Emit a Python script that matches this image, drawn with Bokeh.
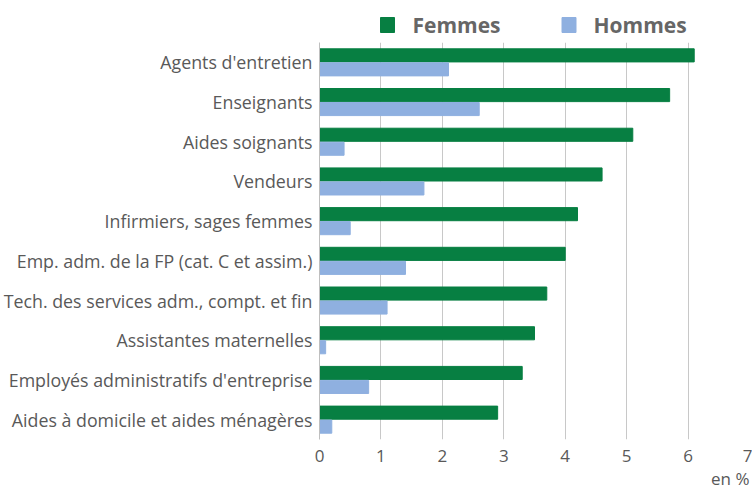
from bokeh.plotting import figure
from bokeh.layouts import column
from bokeh.models import ColumnDataSource, Title, FactorRange, Range1d
from bokeh.core.properties import value
from bokeh.transform import dodge
from bokeh.embed import file_html
from bokeh.resources import INLINE

categories = [
    "Agents d'entretien",
    "Enseignants",
    "Aides soignants",
    "Vendeurs",
    "Infirmiers, sages femmes",
    "Emp. adm. de la FP (cat. C et assim.)",
    "Tech. des services adm., compt. et fin",
    "Assistantes maternelles",
    "Employés administratifs d'entreprise",
    "Aides à domicile et aides ménagères",
]
femmes = [6.1, 5.7, 5.1, 4.6, 4.2, 4.0, 3.7, 3.5, 3.3, 2.9]
hommes = [2.1, 2.6, 0.4, 1.7, 0.5, 1.4, 1.1, 0.1, 0.8, 0.2]
x_ticks = [0, 1, 2, 3, 4, 5, 6, 7]
series = ["Femmes", "Hommes"]

GREEN = "#077f42"
BLUE = "#8fb0e0"
FONT = "Open Sans"
TXT = "#595959"

# ---- legend strip (frame aligned with the chart; pixel coordinates) ----
lg = figure(width=752, height=42, x_range=Range1d(319, 749), y_range=Range1d(42, 0),
            output_backend="svg", toolbar_location=None,
            x_axis_location=None, y_axis_location=None,
            min_border_left=319, min_border_right=3, min_border_top=0, min_border_bottom=0)
lg.outline_line_color = None
lg.xgrid.visible = False
lg.ygrid.visible = False
lg.rect(x=[387, 568.5], y=[24.5, 24.5], width=14, height=15,
        color=[GREEN, BLUE])
lg.text(x=[412, 593], y=[24.5, 24.5], text=series,
        text_baseline="middle", text_align="left",
        text_font=value(FONT), text_font_size="21px", text_font_style="bold",
        text_color="#666666")

# ---- main chart ----
src = ColumnDataSource(dict(cat=categories, f=femmes, h=hommes))

p = figure(
    width=752, height=449,
    y_range=FactorRange(factors=list(reversed(categories))),
    x_range=(0, 7),
    output_backend="svg", toolbar_location=None,
    min_border_left=319, min_border_right=3,
    min_border_top=0, min_border_bottom=52,
)
p.outline_line_color = None

p.hbar(y=dodge("cat", 0.176, range=p.y_range), right="f", left=0,
       height=0.33, color=GREEN, source=src)
p.hbar(y=dodge("cat", -0.176, range=p.y_range), right="h", left=0,
       height=0.33, color=BLUE, source=src)

p.xaxis.ticker = x_ticks
p.xaxis.axis_line_color = None
p.xaxis.major_tick_line_color = None
p.xaxis.minor_tick_line_color = None
p.xaxis.major_tick_out = 0
p.xaxis.minor_tick_out = 0
p.xaxis.major_label_text_font = FONT
p.xaxis.major_label_text_font_size = "17px"
p.xaxis.major_label_text_color = TXT
p.xaxis.major_label_standoff = 10

p.yaxis.axis_line_color = "#bfbfbf"
p.yaxis.major_tick_line_color = None
p.yaxis.minor_tick_line_color = None
p.yaxis.major_tick_out = 0
p.yaxis.minor_tick_out = 0
p.yaxis.major_label_text_font = FONT
p.yaxis.major_label_text_font_size = "17.8px"
p.yaxis.major_label_text_color = TXT
p.yaxis.major_label_standoff = 7

p.xgrid.grid_line_color = "#c8c8c8"
p.ygrid.grid_line_color = None

unit = Title(text="en %", align="right", text_font=FONT,
             text_font_size="17px", text_font_style="normal",
             text_color=TXT, standoff=0, offset=0)
p.add_layout(unit, "below")

layout = column(lg, p, spacing=0)
open("out.html", "w").write(file_html(layout, INLINE))
